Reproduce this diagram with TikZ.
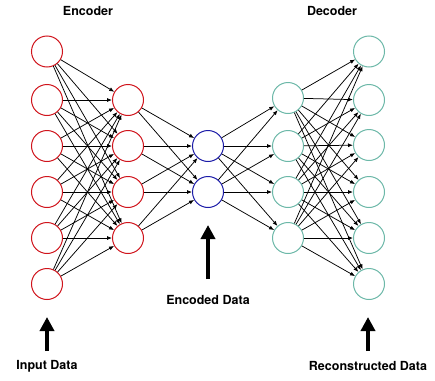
\documentclass[tikz,border=0pt]{standalone}
\usepackage{fontspec}
\setmainfont{TeX Gyre Heros}
\usetikzlibrary{arrows.meta}
\definecolor{encred}{HTML}{D0141C}
\definecolor{codeblue}{HTML}{1C1CA8}
\definecolor{decteal}{HTML}{6CB8A8}
\tikzset{
  neuron/.style={circle,draw=#1,line width=1pt,minimum size=31pt,inner sep=0pt,fill=white},
  conn/.style={-{Latex[length=5pt,width=4pt]},line width=0.75pt,black},
  bigarrow/.style={-{Triangle[length=14pt,width=14pt]},line width=4.5pt,black},
  lbl/.style={font=\bfseries\fontsize{12.5}{15}\selectfont,inner sep=0pt}
}
\begin{document}
\begin{tikzpicture}[x=1pt,y=-1pt]
\useasboundingbox (0,0) rectangle (435,380);
% layers
\foreach \i/\y in {1/51.5,2/100,3/146,4/192,5/238,6/284}
  \node[neuron=encred] (a\i) at (47,\y) {};
\foreach \i/\y in {1/100,2/146,3/192,4/238}
  \node[neuron=encred] (b\i) at (128,\y) {};
\foreach \i/\y in {1/146,2/192}
  \node[neuron=codeblue] (c\i) at (208,\y) {};
\foreach \i/\y in {1/98,2/146,3/192,4/238}
  \node[neuron=decteal] (d\i) at (288,\y) {};
\foreach \i/\y in {1/51.5,2/100,3/145,4/192,5/238,6/284}
  \node[neuron=decteal] (e\i) at (369,\y) {};
% connections
\foreach \i in {1,...,6}
  \foreach \j in {1,...,4}
    \draw[conn] (a\i) -- (b\j);
\foreach \i in {1,...,4}
  \foreach \j in {1,2}
    \draw[conn] (b\i) -- (c\j);
\foreach \i in {1,2}
  \foreach \j in {1,...,4}
    \draw[conn] (c\i) -- (d\j);
\foreach \i in {1,...,4}
  \foreach \j in {1,...,6}
    \draw[conn] (d\i) -- (e\j);
% labels
\node[lbl] (enc) at (88,11) {Encoder};
\node[lbl] (dec) at (332,11) {Decoder};
\node[lbl] (encd) at (208,300) {Encoded Data};
\node[lbl] (inp) at (47,366) {Input Data};
\node[lbl] (rec) at (368,366) {Reconstructed Data};
% big arrows
\coordinate (ia) at (47,351);
\coordinate (ib) at (47,317);
\draw[bigarrow] (ia) -- (ib);
\coordinate (ca) at (208,279);
\coordinate (cb) at (208,225);
\draw[bigarrow] (ca) -- (cb);
\coordinate (ra) at (368,351);
\coordinate (rb) at (368,317);
\draw[bigarrow] (ra) -- (rb);
\end{tikzpicture}
\end{document}
